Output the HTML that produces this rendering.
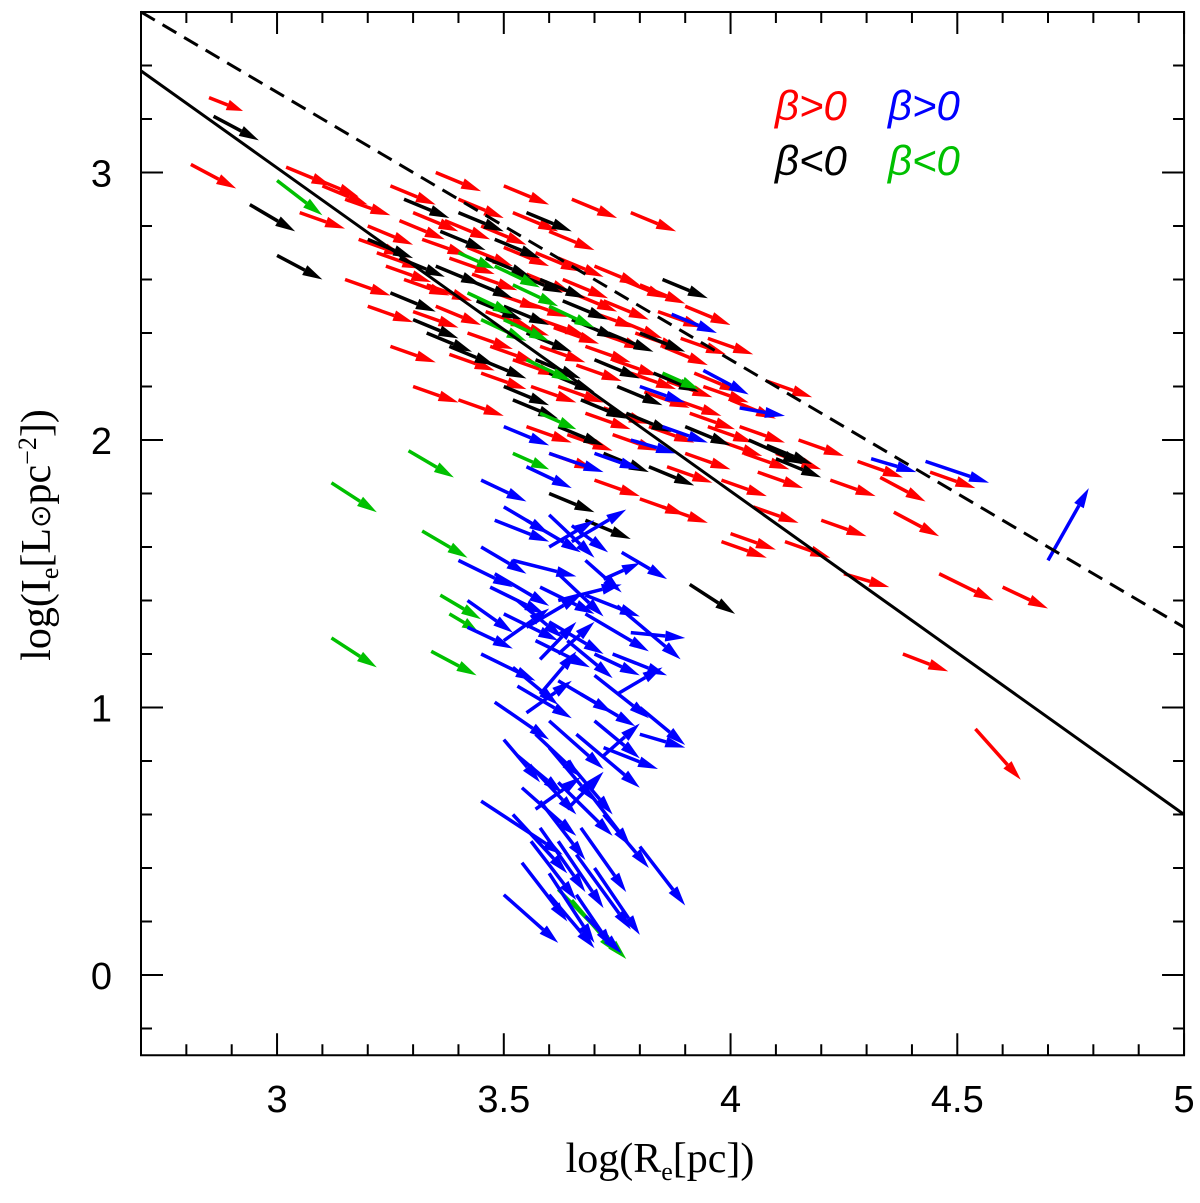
<!DOCTYPE html>
<html><head><meta charset="utf-8"><style>
body{margin:0;background:#fff;}
svg text{font-family:"Liberation Sans",sans-serif;}
</style></head><body>
<svg id="chart" width="1200" height="1198" viewBox="0 0 1200 1198" xmlns="http://www.w3.org/2000/svg">
<g id="marks"></g>
<g id="axes"></g>
<text x="660" y="1172" text-anchor="middle" font-size="42" style="font-family:'Liberation Serif',serif">log(R<tspan font-size="26" dy="8">e</tspan><tspan dy="-8">[pc])</tspan></text>
<text transform="translate(50,535) rotate(-90)" text-anchor="middle" font-size="42" style="font-family:'Liberation Serif',serif">log(I<tspan font-size="26" dy="8">e</tspan><tspan dy="-8">[L</tspan><tspan font-size="28">⊙</tspan>pc<tspan font-size="26" dy="-14">−2</tspan><tspan dy="14">])</tspan></text>
<g font-size="42" font-style="italic">
<text x="775" y="120" fill="#ff0000">β&gt;0</text>
<text x="888" y="120" fill="#0000ff">β&gt;0</text>
<text x="775" y="175" fill="#000000">β&lt;0</text>
<text x="888" y="175" fill="#00c000">β&lt;0</text>
</g>
</svg>
<script>
const xTicks=[3,3.5,4,4.5,5];
const xTickLabels=["3","3.5","4","4.5","5"];
const yTicks=[0,1,2,3];
const yTickLabels=["0","1","2","3"];
const solidLine=[[2.7,3.38],[5,0.6]];
const dashedLine=[[2.7,3.6],[5,1.3]];
const red=[[2.85,3.28,0.075,-0.05],[2.81,3.03,0.1,-0.09],[3.02,3.02,0.1,-0.07],[3.05,2.85,0.1,-0.06],[3.1,2.95,0.1,-0.07],[3.15,2.9,0.1,-0.06],[3.2,2.8,0.1,-0.07],[3.22,2.7,0.1,-0.06],[3.25,2.95,0.1,-0.07],[3.28,2.6,0.1,-0.06],[3.3,2.85,0.1,-0.07],[3.32,2.75,0.1,-0.06],[3.35,2.5,0.1,-0.07],[3.38,2.68,0.1,-0.06],[3.4,2.9,0.1,-0.07],[3.42,2.4,0.1,-0.06],[3.45,2.8,0.1,-0.07],[3.48,2.55,0.1,-0.06],[3.5,2.72,0.1,-0.07],[3.52,2.3,0.1,-0.06],[3.55,2.62,0.1,-0.07],[3.58,2.45,0.1,-0.06],[3.6,2.78,0.1,-0.07],[3.62,2.2,0.1,-0.06],[3.65,2.55,0.1,-0.07],[3.68,2.35,0.1,-0.06],[3.7,2.65,0.1,-0.07],[3.72,2.12,0.1,-0.06],[3.75,2.45,0.1,-0.07],[3.78,2.25,0.1,-0.06],[3.8,2.58,0.1,-0.07],[3.82,2.05,0.1,-0.06],[3.85,2.35,0.1,-0.07],[3.88,2.15,0.1,-0.06],[3.9,1.95,0.1,-0.06],[3.92,2.25,0.1,-0.07],[3.95,2.05,0.1,-0.06],[3.98,1.85,0.1,-0.06],[4.0,2.15,0.1,-0.07],[4.03,1.95,0.1,-0.06],[4.05,1.75,0.1,-0.06],[4.1,1.95,0.1,-0.06],[4.12,1.62,0.1,-0.06],[4.2,1.7,0.1,-0.06],[4.25,1.5,0.1,-0.05],[4.33,1.86,0.1,-0.09],[4.36,1.73,0.1,-0.09],[4.38,1.2,0.1,-0.065],[4.46,1.5,0.12,-0.1],[4.54,0.92,0.1,-0.19],[3.3,2.2,0.1,-0.06],[3.25,2.35,0.1,-0.06],[3.4,2.15,0.1,-0.06],[3.55,2.05,0.1,-0.06],[3.6,1.95,0.1,-0.06],[3.7,1.85,0.1,-0.06],[3.8,1.78,0.1,-0.06],[3.65,2.9,0.1,-0.07],[3.78,2.85,0.1,-0.07],[3.5,2.95,0.1,-0.07],[3.35,3.0,0.1,-0.07],[3.45,2.25,0.1,-0.06],[3.58,2.35,0.1,-0.06],[3.68,2.1,0.1,-0.06],[3.9,2.5,0.1,-0.07],[3.95,2.38,0.1,-0.06],[4.08,2.22,0.1,-0.06],[3.2,2.5,0.1,-0.06],[3.15,2.6,0.1,-0.06],[3.5,2.45,0.1,-0.06],[3.62,2.68,0.1,-0.07],[3.72,2.52,0.1,-0.07],[3.85,1.75,0.1,-0.06],[4.0,1.65,0.1,-0.06],[4.15,2.0,0.1,-0.06],[4.28,1.92,0.1,-0.06],[3.98,1.62,0.1,-0.06],[4.6,1.45,0.1,-0.08],
[3.08,2.98,0.1,-0.07],[3.18,2.75,0.1,-0.06],[3.27,2.82,0.1,-0.07],[3.33,2.58,0.1,-0.06],[3.37,2.82,0.1,-0.07],[3.43,2.62,0.1,-0.06],[3.46,2.48,0.1,-0.06],[3.52,2.85,0.1,-0.07],[3.54,2.52,0.1,-0.06],[3.57,2.7,0.1,-0.07],[3.61,2.42,0.1,-0.06],[3.63,2.6,0.1,-0.07],[3.66,2.28,0.1,-0.06],[3.69,2.48,0.1,-0.06],[3.71,2.4,0.1,-0.06],[3.74,2.3,0.1,-0.06],[3.76,2.6,0.1,-0.07],[3.79,2.4,0.1,-0.06],[3.81,2.18,0.1,-0.06],[3.84,2.48,0.1,-0.06],[3.86,2.22,0.1,-0.06],[3.89,2.38,0.1,-0.06],[3.91,2.1,0.1,-0.06],[3.94,2.2,0.1,-0.06],[3.97,2.0,0.1,-0.06],[4.02,2.05,0.1,-0.06],[4.06,1.88,0.1,-0.06],[3.42,2.72,0.1,-0.07],[3.47,2.35,0.1,-0.06],[3.56,2.2,0.1,-0.06],[3.64,2.02,0.1,-0.06],[3.74,2.02,0.1,-0.06],[3.86,1.9,0.1,-0.06],[3.24,2.65,0.1,-0.06],[3.3,2.48,0.1,-0.06],[3.38,2.32,0.1,-0.06],[4.44,1.88,0.1,-0.06],[4.22,1.85,0.1,-0.06]];
const black=[[2.86,3.21,0.1,-0.09],[2.94,2.88,0.1,-0.1],[3.0,2.69,0.1,-0.09],[3.91,1.46,0.1,-0.11],[4.04,2.0,0.12,-0.09],[3.2,2.75,0.1,-0.07],[3.25,2.55,0.1,-0.07],[3.3,2.45,0.1,-0.07],[3.35,2.65,0.1,-0.07],[3.38,2.35,0.1,-0.07],[3.42,2.6,0.1,-0.07],[3.45,2.3,0.1,-0.07],[3.48,2.75,0.1,-0.07],[3.5,2.5,0.1,-0.07],[3.52,2.15,0.1,-0.07],[3.55,2.4,0.1,-0.07],[3.58,2.6,0.1,-0.07],[3.6,2.25,0.1,-0.07],[3.62,2.05,0.1,-0.07],[3.65,2.45,0.1,-0.07],[3.7,2.3,0.1,-0.07],[3.72,1.95,0.1,-0.07],[3.75,2.2,0.1,-0.07],[3.8,2.4,0.1,-0.07],[3.82,1.9,0.1,-0.07],[3.85,2.6,0.1,-0.07],[3.4,2.85,0.1,-0.07],[3.55,2.85,0.1,-0.07],[3.28,2.9,0.1,-0.07],[3.6,1.8,0.1,-0.07],[4.08,1.98,0.1,-0.07],[3.9,2.05,0.1,-0.07],[3.68,1.7,0.1,-0.07],
[3.27,2.68,0.1,-0.07],[3.33,2.4,0.1,-0.07],[3.44,2.52,0.1,-0.07],[3.46,2.68,0.1,-0.07],[3.53,2.62,0.1,-0.07],[3.57,2.3,0.1,-0.07],[3.63,2.52,0.1,-0.07],[3.67,2.15,0.1,-0.07],[3.73,2.4,0.1,-0.07],[3.77,2.1,0.1,-0.07],[3.83,2.25,0.1,-0.07],[3.5,2.2,0.1,-0.07],[3.36,2.78,0.1,-0.07],[4.1,1.93,0.1,-0.07]];
const green=[[3.12,1.84,0.1,-0.11],[3.12,1.26,0.1,-0.11],[3.34,1.21,0.1,-0.09],[3.32,1.66,0.1,-0.1],[3.29,1.96,0.1,-0.1],[3.36,1.42,0.09,-0.09],[3.62,0.32,0.15,-0.26],[3.0,2.97,0.1,-0.13],[3.42,2.55,0.1,-0.08],[3.5,2.45,0.1,-0.08],[3.55,2.3,0.1,-0.08],[3.48,2.65,0.1,-0.08],[3.6,2.5,0.1,-0.08],[3.85,2.25,0.08,-0.06],[3.58,2.1,0.08,-0.06],[3.4,2.7,0.08,-0.06],[3.65,0.28,0.1,-0.2],[3.45,2.45,0.1,-0.08],[3.52,2.58,0.1,-0.08],[3.38,1.35,0.06,-0.06],[3.52,1.95,0.08,-0.06]];
const blue=[[4.7,1.55,0.09,0.27],[4.43,1.92,0.14,-0.08],[4.31,1.93,0.1,-0.05],[3.87,2.47,0.1,-0.07],[3.94,2.26,0.1,-0.09],[4.02,2.12,0.1,-0.03],[3.45,1.85,0.1,-0.08],[3.5,1.75,0.1,-0.1],[3.55,1.7,0.12,-0.12],[3.6,1.72,0.1,-0.16],[3.65,1.68,0.08,-0.1],[3.45,1.6,0.1,-0.1],[3.48,1.5,0.12,-0.12],[3.52,1.55,0.14,-0.06],[3.58,1.45,0.12,-0.1],[3.62,1.5,0.1,-0.16],[3.68,1.55,0.08,-0.12],[3.72,1.48,0.08,0.06],[3.42,1.4,0.1,-0.12],[3.5,1.35,0.12,-0.1],[3.55,1.3,0.12,0.12],[3.6,1.32,0.12,-0.12],[3.68,1.35,0.14,-0.14],[3.75,1.38,0.14,-0.2],[3.78,1.28,0.12,-0.02],[3.45,1.2,0.12,-0.1],[3.52,1.15,0.1,-0.14],[3.58,1.18,0.08,0.14],[3.62,1.1,0.12,-0.12],[3.7,1.12,0.12,-0.16],[3.75,1.05,0.1,0.1],[3.8,1.0,0.1,-0.14],[3.48,1.02,0.12,-0.14],[3.55,0.98,0.1,0.12],[3.6,0.95,0.12,-0.18],[3.66,0.9,0.14,-0.2],[3.72,0.85,0.12,-0.08],[3.8,0.9,0.1,-0.05],[3.5,0.88,0.08,-0.16],[3.56,0.78,0.1,-0.18],[3.62,0.72,0.12,-0.2],[3.68,0.7,0.1,-0.22],[3.72,0.6,0.1,-0.2],[3.45,0.65,0.18,-0.2],[3.52,0.6,0.12,-0.22],[3.58,0.55,0.1,-0.24],[3.62,0.5,0.1,-0.25],[3.66,0.45,0.12,-0.28],[3.7,0.4,0.1,-0.25],[3.8,0.48,0.1,-0.22],[3.54,0.42,0.1,-0.22],[3.6,0.38,0.1,-0.26],[3.5,0.3,0.12,-0.18],[3.66,0.3,0.08,-0.2],[3.72,0.82,0.08,0.12],[3.65,1.62,0.12,0.12],[3.7,1.2,0.1,-0.08],[3.62,1.4,0.14,0.06],[3.55,1.9,0.1,-0.08],[3.6,1.95,0.12,-0.07],[3.7,1.95,0.1,-0.06],[3.78,2.0,0.1,-0.05],[3.5,2.05,0.1,-0.07],[3.8,2.2,0.1,-0.06],[3.85,2.05,0.1,-0.06],[3.58,1.05,0.08,0.16],[3.5,1.25,0.1,0.12],[3.64,0.62,0.08,0.14],
[3.4,1.55,0.12,-0.1],[3.47,1.45,0.12,-0.1],[3.53,1.4,0.1,-0.14],[3.57,1.25,0.12,-0.1],[3.64,1.25,0.1,-0.14],[3.67,1.05,0.12,-0.12],[3.53,1.08,0.12,-0.12],[3.57,0.9,0.1,-0.16],[3.6,0.85,0.1,-0.2],[3.64,0.8,0.1,-0.2],[3.54,0.7,0.12,-0.18],[3.58,0.65,0.1,-0.22],[3.67,0.55,0.1,-0.24],[3.56,0.5,0.1,-0.22],[3.6,0.3,0.1,-0.2],[3.68,0.22,0.08,-0.14],[3.53,0.82,0.1,-0.14],[3.74,1.2,0.12,-0.08],[3.76,1.58,0.1,-0.1],[3.48,1.7,0.12,-0.08],[3.42,1.3,0.1,-0.08],[3.6,1.6,0.1,0.1],[3.7,0.95,0.1,-0.14],[3.62,1.2,0.08,0.12],[3.57,0.62,0.1,0.12],[3.68,1.42,0.12,-0.08]];
const X=v=>141+(v-2.7)*453.5;
const Y=v=>975-v*267.5;
const NS="http://www.w3.org/2000/svg";
const marks=document.getElementById('marks');
const axes=document.getElementById('axes');
function mk(tag,attrs,parent){const e=document.createElementNS(NS,tag);for(const k in attrs)e.setAttribute(k,attrs[k]);parent.appendChild(e);return e;}
function drawArrows(list,color,name){
 for(const a of list){
  const x1=X(a[0]),y1=Y(a[1]),x2=X(a[0]+a[2]),y2=Y(a[1]+a[3]);
  const dx=x2-x1,dy=y2-y1,L=Math.hypot(dx,dy),ux=dx/L,uy=dy/L;
  const hl=Math.min(20,L*0.45),hw=5.5;
  const bx=x2-ux*hl,by=y2-uy*hl;
  const g=mk('g',{},marks);
  
  
  mk('line',{x1:x1,y1:y1,x2:bx,y2:by,stroke:color,'stroke-width':3.5},g);
  mk('polygon',{points:`${x2},${y2} ${bx-uy*hw},${by+ux*hw} ${bx+uy*hw},${by-ux*hw}`,fill:color},g);
 }
}
drawArrows(red,'#ff0000','arrow-red');
drawArrows(black,'#000000','arrow-black');
drawArrows(green,'#00c000','arrow-green');
drawArrows(blue,'#0000ff','arrow-blue');
const sl=mk('line',{x1:X(solidLine[0][0]),y1:Y(solidLine[0][1]),x2:X(solidLine[1][0]),y2:Y(solidLine[1][1]),stroke:'#000','stroke-width':3},axes);


const dl=mk('line',{x1:X(dashedLine[0][0]),y1:Y(dashedLine[0][1]),x2:X(dashedLine[1][0]),y2:Y(dashedLine[1][1]),stroke:'#000','stroke-width':3,'stroke-dasharray':'16 9'},axes);


const L=X(2.7),R=X(5),T=Y(3.6),B=Y(-0.3);
const fr=mk('rect',{x:L,y:T,width:R-L,height:B-T,fill:'none',stroke:'#000','stroke-width':2},axes);


for(let i=28;i<=50;i++){const v=i/10,x=X(v),len=(i%5===0)?22:11;
 mk('line',{x1:x,y1:B,x2:x,y2:B-len,stroke:'#000','stroke-width':2},axes);
 mk('line',{x1:x,y1:T,x2:x,y2:T+len,stroke:'#000','stroke-width':2},axes);}
for(let i=-1;i<=18;i++){const v=i/5,y=Y(v),len=(i%5===0)?22:11;
 mk('line',{x1:L,y1:y,x2:L+len,y2:y,stroke:'#000','stroke-width':2},axes);
 mk('line',{x1:R,y1:y,x2:R-len,y2:y,stroke:'#000','stroke-width':2},axes);}
xTicks.forEach((v,i)=>{const t=mk('text',{x:X(v),y:1112,'text-anchor':'middle','font-size':38},axes);t.textContent=xTickLabels[i];
 
 });
yTicks.forEach((v,i)=>{const t=mk('text',{x:112,y:Y(v)+14,'text-anchor':'end','font-size':38},axes);t.textContent=yTickLabels[i];
 
 });
</script>
</body></html>
